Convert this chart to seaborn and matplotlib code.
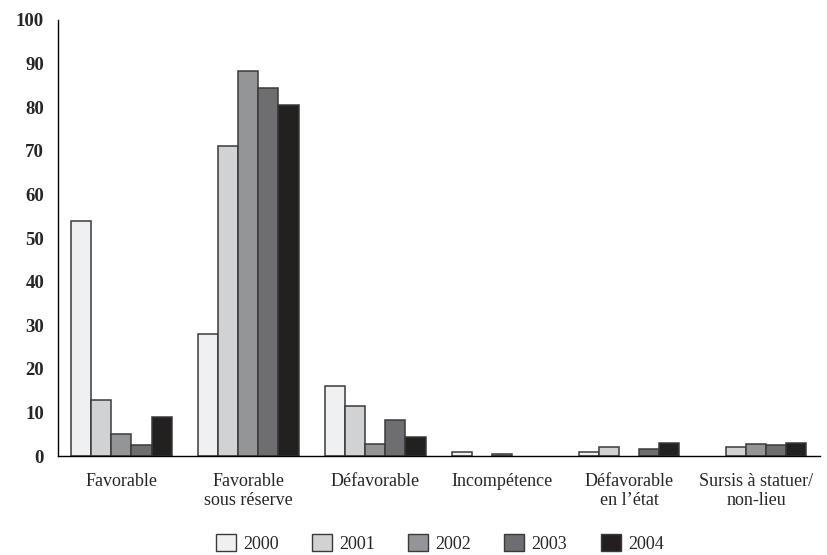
import pandas as pd
import numpy as np
import matplotlib.pyplot as plt
import seaborn as sns
from matplotlib.patches import Patch

sns.set_style('white')
plt.rcParams['font.family'] = ['Liberation Serif', 'DejaVu Serif']

# Données
categories = ['Favorable', 'Favorable\nsous réserve', 'Défavorable', 'Incompétence',
              'Défavorable\nen l\u2019état', 'Sursis à statuer/\nnon-lieu']
annees = ['2000', '2001', '2002', '2003', '2004']
v2000 = [54, 28, 16, 1, 1, 0]
v2001 = [12.8, 71.2, 11.6, 0, 2.1, 2.1]
v2002 = [5.2, 88.3, 2.8, 0.5, 0, 2.9]
v2003 = [2.6, 84.5, 8.4, 0, 1.6, 2.5]
v2004 = [9, 80.6, 4.4, 0, 3, 3]
couleurs = ['#eff0f2', '#d1d2d4', '#939598', '#6d6e71', '#231f20']

df = pd.DataFrame({'Categorie': categories * 5,
                   'Annee': np.repeat(annees, len(categories)),
                   'Valeur': v2000 + v2001 + v2002 + v2003 + v2004})

fig = plt.figure(figsize=(8.28, 5.55), dpi=100)
ax = fig.add_axes([0.070, 0.178, 0.920, 0.786])

sns.barplot(data=df, x='Categorie', y='Valeur', hue='Annee', palette=couleurs,
            order=categories, hue_order=annees, width=0.79, edgecolor='#3a3a3a',
            linewidth=1.1, ax=ax, legend=False)

# les barres à zéro ne se voient pas dans l'original
for p in ax.patches:
    if p.get_height() == 0:
        p.set_visible(False)

ax.set_xlim(-0.5, 5.5)
ax.set_ylim(0, 100)
ax.set_yticks(range(0, 101, 10))
ax.set_xticks(np.arange(-0.5, 6, 1), minor=True)
ax.tick_params(axis='x', which='major', length=0, pad=12, labelsize=13)
ax.tick_params(axis='x', which='minor', length=6, width=1, direction='out', color='black')
ax.tick_params(axis='y', length=5, width=1, direction='out', color='black', labelsize=13.5, pad=5)
for t in ax.get_yticklabels():
    t.set_fontweight('bold')
ax.set_xlabel('')
ax.set_ylabel('')
sns.despine(ax=ax)
for s in ['left', 'bottom']:
    ax.spines[s].set_color('black')
    ax.spines[s].set_linewidth(1)

handles = [Patch(facecolor=c, edgecolor='#3a3a3a', linewidth=1) for c in couleurs]
fig.legend(handles, annees, loc='lower center', bbox_to_anchor=(0.531, -0.025), ncol=5,
           frameon=False, fontsize=13, handlelength=1.1, handleheight=1.1,
           handletextpad=0.4, columnspacing=1.85)

fig.savefig('out.png', dpi=100)
